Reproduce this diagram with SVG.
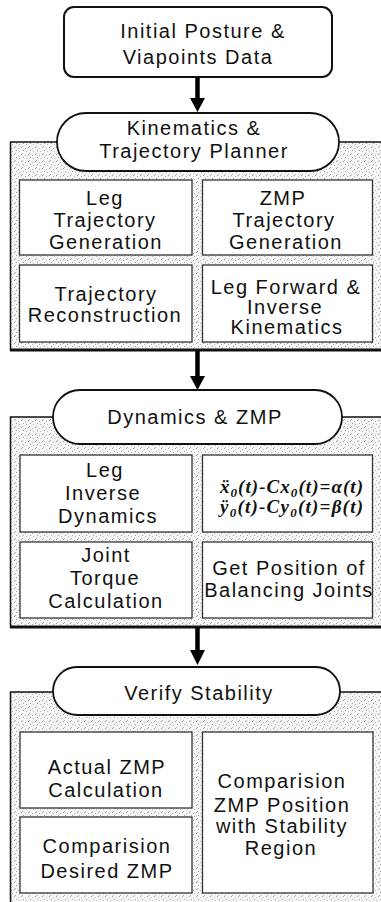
<svg xmlns="http://www.w3.org/2000/svg" width="381" height="902" viewBox="0 0 381 902">
  <defs>
    <!-- light stipple used as the background of each stage panel -->
    <pattern id="stipple" width="7" height="7" patternUnits="userSpaceOnUse">
      <rect width="7" height="7" fill="#f6f6f6"/>
      <rect x="0" y="0" width="1" height="1" fill="#9a9a9a"/>
      <rect x="4" y="1" width="1" height="1" fill="#b4b4b4"/>
      <rect x="2" y="3" width="1" height="1" fill="#a0a0a0"/>
      <rect x="5" y="4" width="1" height="1" fill="#bcbcbc"/>
      <rect x="1" y="6" width="1" height="1" fill="#b0b0b0"/>
    </pattern>
  </defs>
  <style>
    .panel { fill: url(#stipple); stroke: #111; stroke-width: 1.5; }
    .panelBase { stroke: #111; stroke-width: 3; }
    .pill { fill: #fff; stroke: #111; stroke-width: 1.8; }
    .box { fill: #fff; stroke: #333; stroke-width: 1.3; }
    .start { fill: #fff; stroke: #111; stroke-width: 2; }
    .t { font-family: "Liberation Sans", Arial, sans-serif; font-size: 20px; letter-spacing: 1.5px; fill: #111; text-anchor: middle; }
    .eq { font-family: "Liberation Serif", "Times New Roman", serif; font-size: 19px; font-style: italic; font-weight: bold; fill: #111; text-anchor: middle; }
    .sub { font-size: 13px; }
    .shaft { stroke: #000; stroke-width: 4.5; }
    .head { fill: #000; }
  </style>

  <rect width="381" height="902" fill="#fff"/>

  <!-- stage panels -->
  <g id="panel-kinematics">
    <rect class="panel" x="10.5" y="142" width="390" height="208"/>
    <line class="panelBase" x1="10" y1="350" x2="381" y2="350"/>
  </g>
  <g id="panel-dynamics">
    <rect class="panel" x="10.5" y="417" width="390" height="210"/>
    <line class="panelBase" x1="10" y1="627" x2="381" y2="627"/>
  </g>
  <g id="panel-verify">
    <rect class="panel" x="10.5" y="692" width="390" height="230"/>
  </g>

  <!-- connectors -->
  <g id="connectors">
    <line class="shaft" x1="197.5" y1="77" x2="197.5" y2="100"/>
    <polygon class="head" points="190,98 205,98 197.5,112"/>
    <line class="shaft" x1="197.5" y1="350" x2="197.5" y2="378"/>
    <polygon class="head" points="190,376 205,376 197.5,390"/>
    <line class="shaft" x1="197.5" y1="627" x2="197.5" y2="652"/>
    <polygon class="head" points="190,650 205,650 197.5,665"/>
  </g>

  <g id="initial-posture">
    <rect class="start" x="64" y="7" width="268" height="70" rx="10"/>
    <text class="t" x="203" y="38">Initial Posture &amp;</text>
    <text class="t" x="198" y="64">Viapoints Data</text>
  </g>

  <g id="kinematics-planner">
    <rect class="pill" x="57" y="113" width="282" height="58" rx="29"/>
    <text class="t" x="194" y="135">Kinematics &amp;</text>
    <text class="t" x="194" y="158">Trajectory Planner</text>
  </g>

  <g id="leg-trajectory">
    <rect class="box" x="19.5" y="180" width="172.5" height="75"/>
    <text class="t" x="105" y="205">Leg</text>
    <text class="t" x="105" y="227">Trajectory</text>
    <text class="t" x="106" y="249">Generation</text>
  </g>

  <g id="zmp-trajectory">
    <rect class="box" x="202.5" y="180" width="170" height="75"/>
    <text class="t" x="283" y="205">ZMP</text>
    <text class="t" x="284" y="227">Trajectory</text>
    <text class="t" x="286" y="249">Generation</text>
  </g>

  <g id="trajectory-reconstruction">
    <rect class="box" x="19.5" y="265" width="172.5" height="77"/>
    <text class="t" x="106" y="301">Trajectory</text>
    <text class="t" x="105" y="322">Reconstruction</text>
  </g>

  <g id="leg-kinematics">
    <rect class="box" x="202.5" y="265" width="170" height="77"/>
    <text class="t" x="286" y="294">Leg Forward &amp;</text>
    <text class="t" x="285" y="314">Inverse</text>
    <text class="t" x="287" y="334">Kinematics</text>
  </g>

  <g id="dynamics-zmp">
    <rect class="pill" x="53" y="390" width="289" height="54" rx="27"/>
    <text class="t" x="195" y="424">Dynamics &amp; ZMP</text>
  </g>

  <g id="leg-inverse-dynamics">
    <rect class="box" x="20" y="455" width="172" height="77"/>
    <text class="t" x="105" y="477">Leg</text>
    <text class="t" x="103" y="500">Inverse</text>
    <text class="t" x="108" y="523">Dynamics</text>
  </g>

  <g id="zmp-equations">
    <rect class="box" x="202.5" y="455" width="170" height="77"/>
    <text class="eq" x="291.5" y="493" textLength="143" lengthAdjust="spacing">ẍ<tspan class="sub" dy="4">0</tspan><tspan dy="-4">(t)-Cx</tspan><tspan class="sub" dy="4">0</tspan><tspan dy="-4">(t)=α(t)</tspan></text>
    <text class="eq" x="291.5" y="513" textLength="143" lengthAdjust="spacing">ÿ<tspan class="sub" dy="4">0</tspan><tspan dy="-4">(t)-Cy</tspan><tspan class="sub" dy="4">0</tspan><tspan dy="-4">(t)=β(t)</tspan></text>
  </g>

  <g id="joint-torque">
    <rect class="box" x="20" y="542" width="172" height="76"/>
    <text class="t" x="106" y="562">Joint</text>
    <text class="t" x="105" y="585">Torque</text>
    <text class="t" x="106" y="608">Calculation</text>
  </g>

  <g id="balancing-joints">
    <rect class="box" x="202.5" y="542" width="170" height="76"/>
    <text class="t" x="289" y="575">Get Position of</text>
    <text class="t" x="289" y="597">Balancing Joints</text>
  </g>

  <g id="verify-stability">
    <rect class="pill" x="53" y="667" width="287" height="48" rx="24"/>
    <text class="t" x="199" y="700">Verify Stability</text>
  </g>

  <g id="actual-zmp">
    <rect class="box" x="20" y="732" width="172" height="76"/>
    <text class="t" x="107" y="774">Actual ZMP</text>
    <text class="t" x="106" y="797">Calculation</text>
  </g>

  <g id="desired-zmp">
    <rect class="box" x="20" y="817" width="172" height="76"/>
    <text class="t" x="107" y="853">Comparision</text>
    <text class="t" x="107" y="878">Desired ZMP</text>
  </g>

  <g id="stability-region">
    <rect class="box" x="202.5" y="732" width="170.5" height="161"/>
    <text class="t" x="282" y="788">Comparision</text>
    <text class="t" x="282" y="812">ZMP Position</text>
    <text class="t" x="282" y="833">with Stability</text>
    <text class="t" x="281" y="855">Region</text>
  </g>
</svg>
